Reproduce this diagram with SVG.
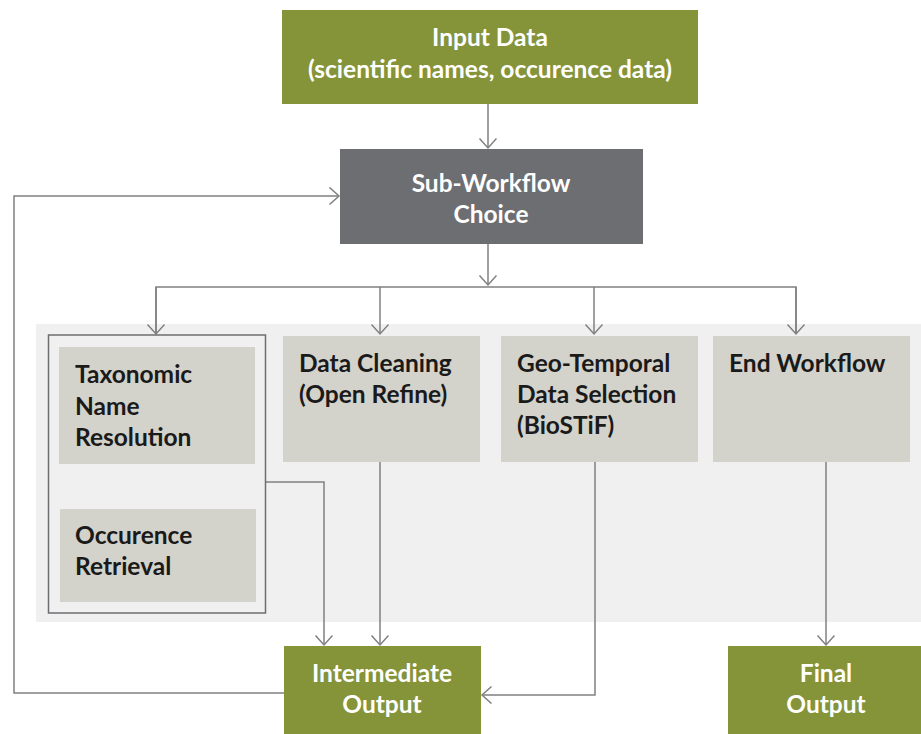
<svg xmlns="http://www.w3.org/2000/svg" width="921" height="734" viewBox="0 0 921 734">
<defs>
<marker id="arr" markerUnits="userSpaceOnUse" markerWidth="12" markerHeight="20" refX="10" refY="9" orient="auto">
<path d="M0.5,0.5 L10,9 L0.5,17.5" fill="none" stroke="#808080" stroke-width="1.5"/>
</marker>
<style>
.ln{fill:none;stroke:#808080;stroke-width:1.5}
.green{fill:#859339}
.dark{fill:#6d6e71}
.light{fill:#d3d2cb}
.wt{font-family:Lato,"Open Sans",sans-serif;font-weight:bold;font-size:24.5px;fill:#ffffff;text-anchor:middle}
.bt{font-family:Lato,"Open Sans",sans-serif;font-weight:bold;font-size:24.5px;fill:#1a1a1a}
</style>
</defs>
<rect x="36" y="324" width="885" height="298" fill="#f0f0f0"/>
<g id="connectors">
<line class="ln" x1="488" y1="104" x2="488" y2="148" marker-end="url(#arr)"/>
<line class="ln" x1="488" y1="244" x2="488" y2="285" marker-end="url(#arr)"/>
<polyline class="ln" points="156,334 156,287 796,287 796,334"/>
<line class="ln" x1="156" y1="287" x2="156" y2="334" marker-end="url(#arr)"/>
<line class="ln" x1="380" y1="287" x2="380" y2="334" marker-end="url(#arr)"/>
<line class="ln" x1="594" y1="287" x2="594" y2="334" marker-end="url(#arr)"/>
<line class="ln" x1="796" y1="287" x2="796" y2="334" marker-end="url(#arr)"/>
<line class="ln" x1="158" y1="464" x2="158" y2="508" marker-end="url(#arr)"/>
<polyline class="ln" points="266,482 324,482 324,645" marker-end="url(#arr)"/>
<line class="ln" x1="380" y1="462" x2="380" y2="645" marker-end="url(#arr)"/>
<polyline class="ln" points="595,462 595,695 482,695" marker-end="url(#arr)"/>
<line class="ln" x1="826" y1="462" x2="826" y2="645" marker-end="url(#arr)"/>
<polyline class="ln" points="284,693 14,693 14,196 339,196" marker-end="url(#arr)"/>
</g>
<g id="input">
<rect class="green" x="282" y="10" width="416" height="94"/>
<text class="wt" x="490" y="46">Input Data</text>
<text class="wt" x="490" y="78">(scientific names, occurence data)</text>
</g>
<g id="choice">
<rect class="dark" x="340" y="149" width="303" height="95"/>
<text class="wt" x="491" y="192">Sub-Workflow</text>
<text class="wt" x="491" y="223">Choice</text>
</g>
<g id="group1">
<rect x="48.5" y="335" width="217" height="278" fill="#f0f0f0" stroke="#6d6e71" stroke-width="1.5"/>
</g>
<g id="taxonomic">
<rect class="light" x="59" y="347" width="196" height="117"/>
<text class="bt" x="75" y="383">Taxonomic</text>
<text class="bt" x="75" y="415">Name</text>
<text class="bt" x="75" y="446">Resolution</text>
</g>
<g id="occurence">
<rect class="light" x="60" y="509" width="196" height="93"/>
<text class="bt" x="75" y="544">Occurence</text>
<text class="bt" x="75" y="575">Retrieval</text>
</g>
<g id="cleaning">
<rect class="light" x="283" y="336" width="197" height="126"/>
<text class="bt" x="299" y="372">Data Cleaning</text>
<text class="bt" x="299" y="403">(Open Refine)</text>
</g>
<g id="geo">
<rect class="light" x="501" y="336" width="197" height="126"/>
<text class="bt" x="517" y="372">Geo-Temporal</text>
<text class="bt" x="517" y="403">Data Selection</text>
<text class="bt" x="517" y="434">(BioSTiF)</text>
</g>
<g id="end">
<rect class="light" x="713" y="336" width="197" height="126"/>
<text class="bt" x="729" y="372">End Workflow</text>
</g>
<g id="intermediate">
<rect class="green" x="284" y="646" width="197" height="88"/>
<text class="wt" x="382" y="682">Intermediate</text>
<text class="wt" x="382" y="713">Output</text>
</g>
<g id="final">
<rect class="green" x="728" y="646" width="193" height="88"/>
<text class="wt" x="826" y="682">Final</text>
<text class="wt" x="826" y="713">Output</text>
</g>
</svg>
